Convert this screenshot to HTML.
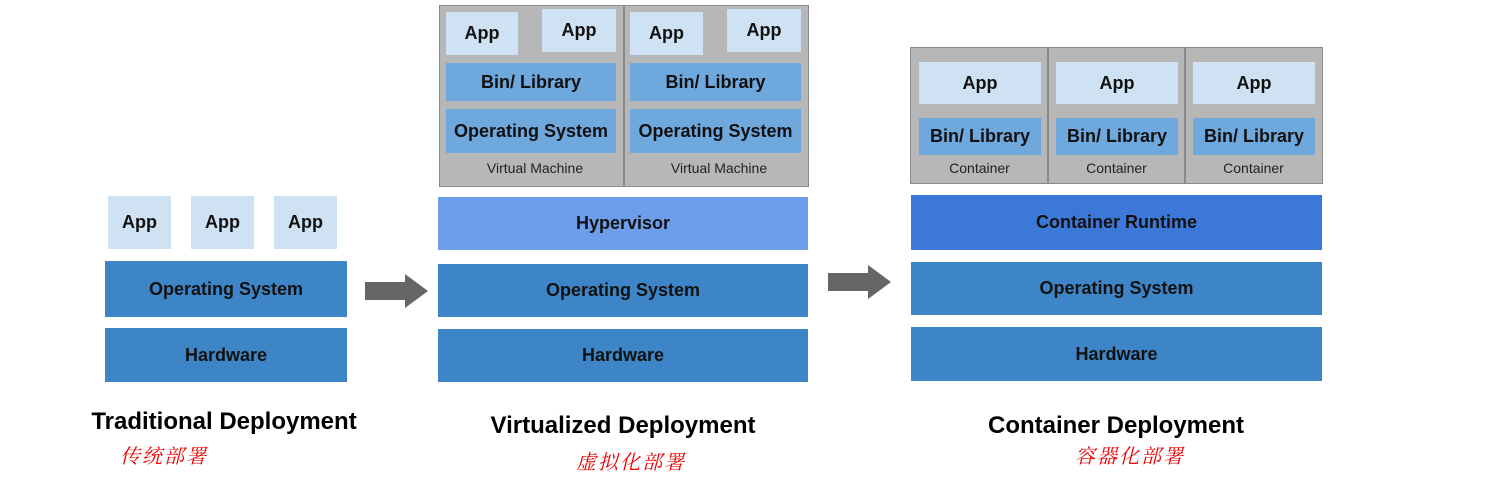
<!DOCTYPE html>
<html><head><meta charset="utf-8"><style>
body{margin:0;width:1510px;height:479px;background:#fff;position:relative;overflow:hidden;font-family:"Liberation Sans","DejaVu Sans",sans-serif}
.b{position:absolute;display:flex;align-items:center;justify-content:center;font-weight:bold;font-size:18px;color:#111;box-sizing:border-box}
.app{background:#cfe2f3}
.os{background:#3d85c6}
.lib{background:#6fa8dc}
.g{position:absolute;background:#b7b7b7;border:1px solid #8a8a8a;box-sizing:border-box}
.s{position:absolute;font-size:14px;color:#222;text-align:center}
.t{position:absolute;font-weight:bold;font-size:24px;color:#000;text-align:center;white-space:nowrap}
.c{position:absolute;color:#e00;font-style:italic;font-size:20px;font-family:"Liberation Serif","Noto Serif CJK SC",serif;letter-spacing:2px;white-space:nowrap}
</style></head><body>
<!-- traditional -->
<div class="b app" style="left:108px;top:196px;width:63px;height:53px">App</div>
<div class="b app" style="left:191px;top:196px;width:63px;height:53px">App</div>
<div class="b app" style="left:274px;top:196px;width:63px;height:53px">App</div>
<div class="b os" style="left:105px;top:261px;width:242px;height:56px">Operating System</div>
<div class="b os" style="left:105px;top:328px;width:242px;height:54px">Hardware</div>
<!-- arrows -->
<svg style="position:absolute;left:0;top:0" width="1510" height="479">
<polygon points="365,282 405,282 405,274 428,291 405,308 405,300 365,300" fill="#666"/>
<polygon points="828,273 868,273 868,265 891,282 868,299 868,291 828,291" fill="#666"/>
</svg>
<!-- virtualized -->
<div class="g" style="left:439px;top:5px;width:370px;height:182px"></div>
<div style="position:absolute;left:623px;top:5px;width:2px;height:182px;background:#8a8a8a"></div>
<div class="b app" style="left:446px;top:12px;width:72px;height:43px">App</div>
<div class="b app" style="left:542px;top:9px;width:74px;height:43px">App</div>
<div class="b lib" style="left:446px;top:63px;width:170px;height:38px">Bin/ Library</div>
<div class="b lib" style="left:446px;top:109px;width:170px;height:44px">Operating System</div>
<div class="s" style="left:446px;top:160px;width:178px">Virtual Machine</div>
<div class="b app" style="left:630px;top:12px;width:73px;height:43px">App</div>
<div class="b app" style="left:727px;top:9px;width:74px;height:43px">App</div>
<div class="b lib" style="left:630px;top:63px;width:171px;height:38px">Bin/ Library</div>
<div class="b lib" style="left:630px;top:109px;width:171px;height:44px">Operating System</div>
<div class="s" style="left:630px;top:160px;width:178px">Virtual Machine</div>
<div class="b" style="left:438px;top:197px;width:370px;height:53px;background:#6d9eeb">Hypervisor</div>
<div class="b os" style="left:438px;top:264px;width:370px;height:53px">Operating System</div>
<div class="b os" style="left:438px;top:329px;width:370px;height:53px">Hardware</div>
<!-- container -->
<div class="g" style="left:910px;top:47px;width:413px;height:137px"></div>
<div style="position:absolute;left:1047px;top:47px;width:2px;height:137px;background:#8a8a8a"></div>
<div style="position:absolute;left:1184px;top:47px;width:2px;height:137px;background:#8a8a8a"></div>
<div class="b app" style="left:919px;top:62px;width:122px;height:42px">App</div>
<div class="b lib" style="left:919px;top:118px;width:122px;height:37px">Bin/ Library</div>
<div class="s" style="left:911px;top:160px;width:137px">Container</div>
<div class="b app" style="left:1056px;top:62px;width:122px;height:42px">App</div>
<div class="b lib" style="left:1056px;top:118px;width:122px;height:37px">Bin/ Library</div>
<div class="s" style="left:1048px;top:160px;width:137px">Container</div>
<div class="b app" style="left:1193px;top:62px;width:122px;height:42px">App</div>
<div class="b lib" style="left:1193px;top:118px;width:122px;height:37px">Bin/ Library</div>
<div class="s" style="left:1185px;top:160px;width:137px">Container</div>
<div class="b" style="left:911px;top:195px;width:411px;height:55px;background:#3c78d8">Container Runtime</div>
<div class="b os" style="left:911px;top:262px;width:411px;height:53px">Operating System</div>
<div class="b os" style="left:911px;top:327px;width:411px;height:54px">Hardware</div>
<!-- titles -->
<div class="t" style="left:24px;top:408px;width:400px">Traditional Deployment</div>
<div class="c" style="left:120px;top:440px">传统部署</div>
<div class="t" style="left:423px;top:412px;width:400px">Virtualized Deployment</div>
<div class="c" style="left:576px;top:446px">虚拟化部署</div>
<div class="t" style="left:916px;top:412px;width:400px">Container Deployment</div>
<div class="c" style="left:1075px;top:440px">容器化部署</div>
</body></html>
